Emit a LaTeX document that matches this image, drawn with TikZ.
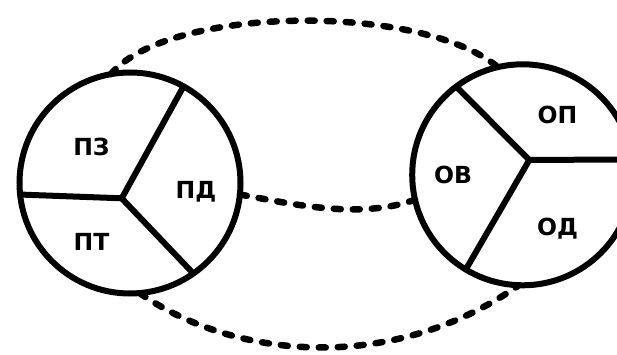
\documentclass[tikz,border=0pt]{standalone}
\usepackage{fontspec}
\setmainfont{DejaVu Sans}
\begin{document}
\begin{tikzpicture}[x=1pt,y=1pt,
    ring/.style={draw=black,circle,line width=6pt,minimum size=221pt,inner sep=0pt,outer sep=0pt},
    spoke/.style={black,line width=6pt},
    link/.style={black,line width=6.5pt,line cap=round,dash pattern=on 7pt off 12pt},
    part/.style={anchor=base,font=\fontsize{23.5}{23.5}\selectfont\bfseries}]
    \useasboundingbox (0,0) rectangle (617,-355);
    \clip (0,0) rectangle (617,-355);
    \node [ring] (P) at (130,-183) {};
    \node [ring] (O) at (522.7,-174.8) {};
    \coordinate (Pc) at (121.7,-198.3);
    \coordinate (Oc) at (529.3,-160);
    \draw [spoke] (P.61) -- (Pc) -- (P.305);
    \draw [spoke] (P.186) -- (Pc);
    \draw [spoke] (O.127) -- (Oc) -- (O.239);
    \draw [spoke] (Oc) -- (O.8);
    \draw (91.5,-156) node [part] (PZ) {ПЗ};
    \draw (196,-198) node [part] (PD) {ПД};
    \draw (91.5,-250) node [part] (PT) {ПТ};
    \draw (557.5,-124) node [part] (OP) {ОП};
    \draw (453,-183) node [part] (OV) {ОВ};
    \draw (557.5,-235) node [part] (OD) {ОД};
    \draw [link] (P.100) to[out=50,in=140,out distance=90pt,in distance=100pt] (O.103);
    \draw [link] (P.354) to[out=-10,in=200,out distance=50pt,in distance=60pt] (O.193);
    \draw [link] (P.275) to[out=-35,in=215,out distance=116pt,in distance=155pt] (O.268);
\end{tikzpicture}
\end{document}
